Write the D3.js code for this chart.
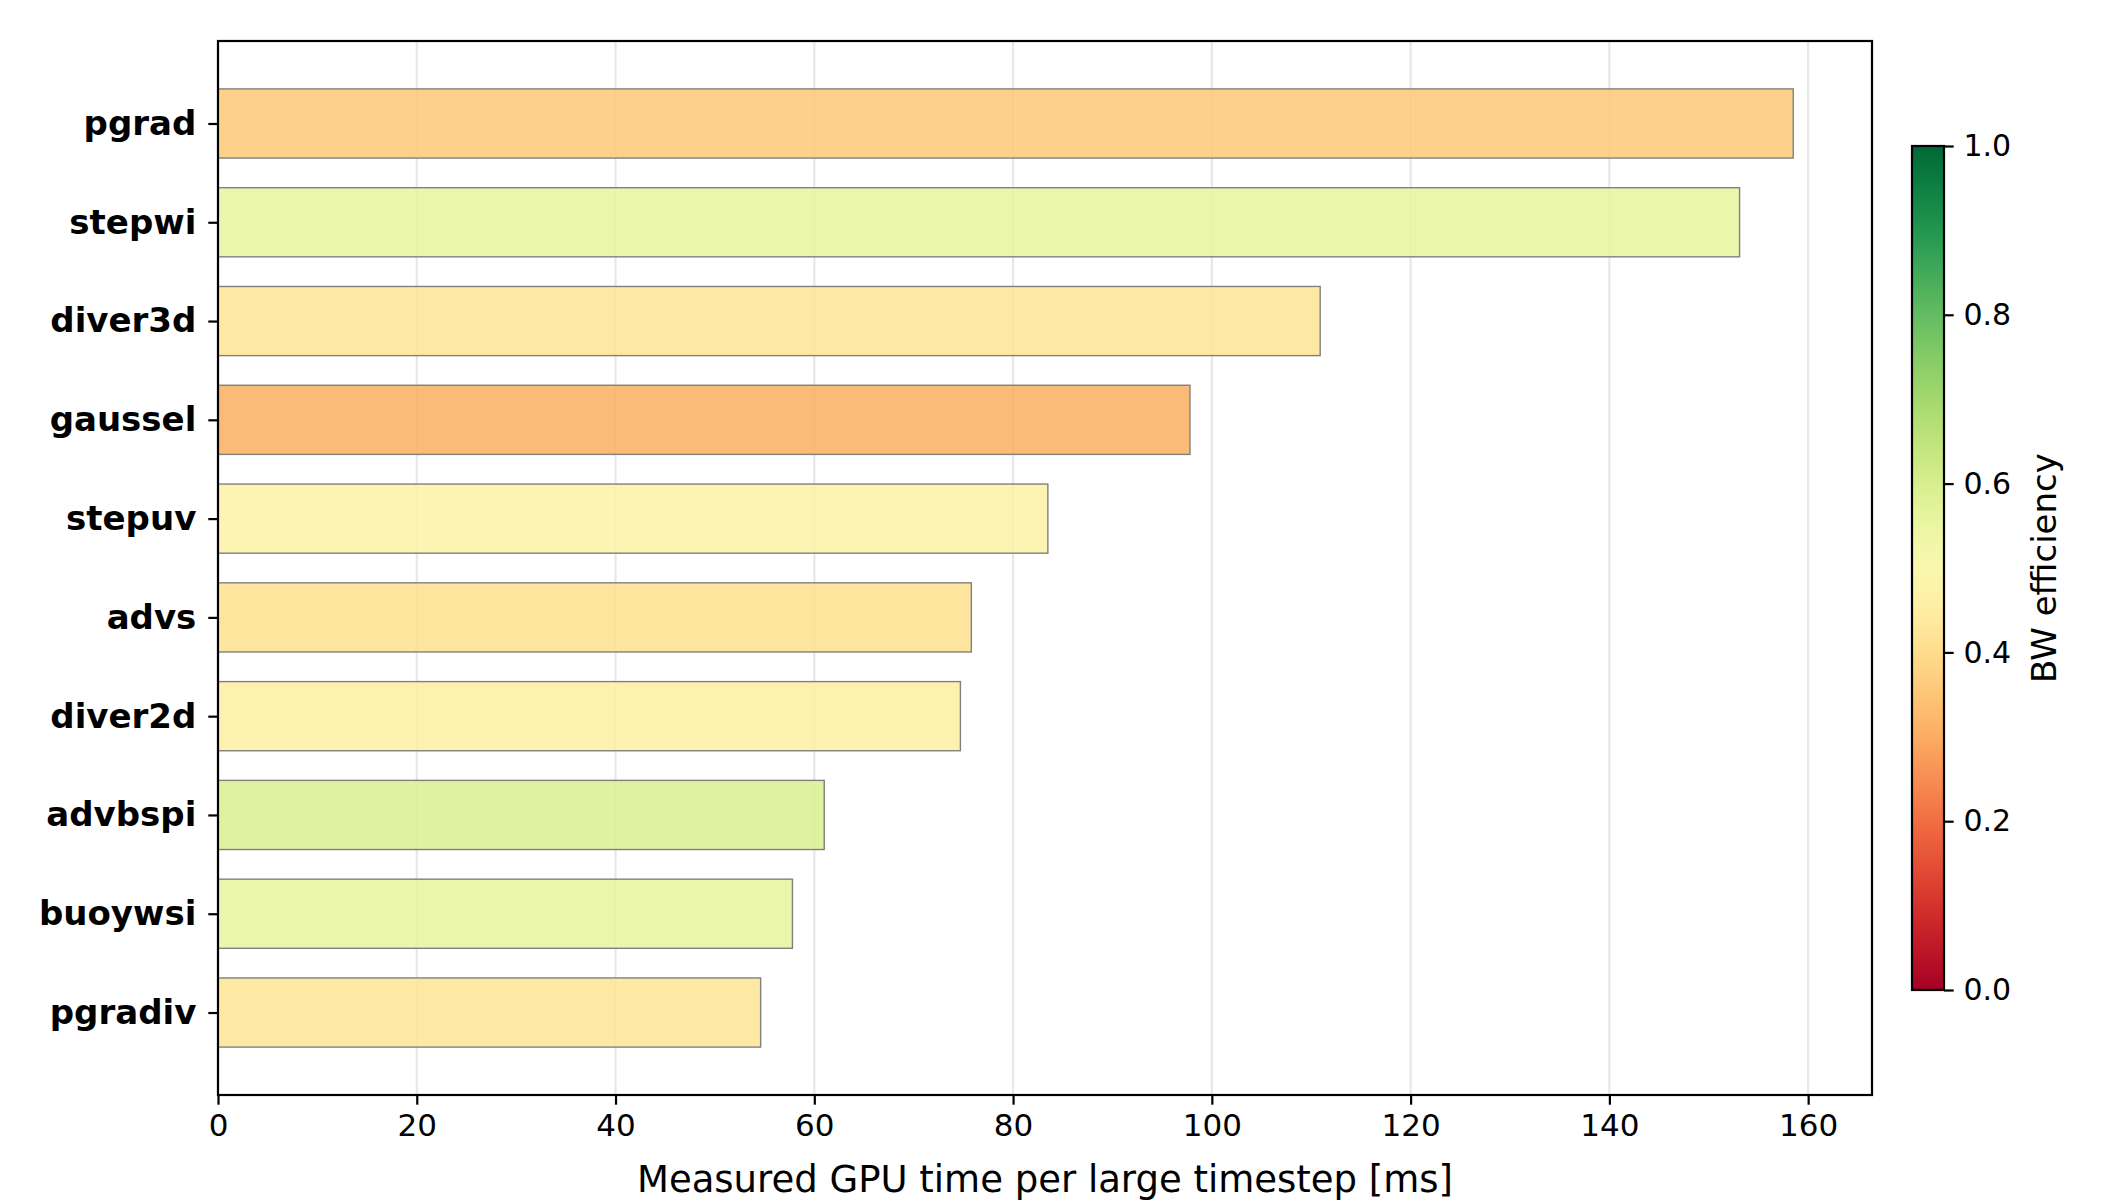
<!DOCTYPE html>
<html lang="en">
  <head>
    <meta charset="UTF-8" />
    <title>GPU time per kernel</title>
    <style>
      body { margin: 0; background: #fff; }
      text { font-family: "DejaVu Sans", sans-serif; fill: #000; }
    </style>
  </head>
  <body>
    <svg id="svg" width="2120" height="1203"></svg>

    <script src="https://cdn.jsdelivr.net/npm/d3@7"></script>
    <script>
      const kernels = ["pgrad", "stepwi", "diver3d", "gaussel", "stepuv", "advs", "diver2d", "advbspi", "buoywsi", "pgradiv"];
      const gpuTime = [158.5, 153.1, 110.9, 97.8, 83.5, 75.8, 74.7, 61.0, 57.8, 54.6];
      const bwEfficiency = [0.36, 0.56, 0.42, 0.31, 0.46, 0.41, 0.45, 0.59, 0.56, 0.42];
      const xTicks = [0, 20, 40, 60, 80, 100, 120, 140, 160];
      const cbTicks = [0, 0.2, 0.4, 0.6, 0.8, 1.0];

      const LEFT = 218, RIGHT = 1872, TOP = 41, BOTTOM = 1095;
      const CB = { x: 1912, w: 32, top: 146, bottom: 990 };

      const svg = d3.select("#svg");

      const xMax = d3.max(gpuTime) * 1.05;
      const x = d3.scaleLinear().domain([0, xMax]).range([LEFT, RIGHT]);
      // barh, first kernel on top, 5% margins like matplotlib
      const n = kernels.length;
      const barH = 0.7;
      const span = (n - 1) + barH;
      const y = d3.scaleLinear()
        .domain([-barH / 2 - span * 0.05, n - 1 + barH / 2 + span * 0.05])
        .range([TOP, BOTTOM]);
      const color = d3.scaleSequential(d3.interpolateRdYlGn).domain([0, 1]);

      // grid
      svg.append("g")
        .selectAll("line")
        .data(xTicks)
        .enter()
        .append("line")
        .attr("x1", (d) => x(d))
        .attr("x2", (d) => x(d))
        .attr("y1", TOP)
        .attr("y2", BOTTOM)
        .attr("stroke", "#b0b0b0")
        .attr("stroke-opacity", 0.3)
        .attr("stroke-width", 2.2);

      // bars
      svg.append("g")
        .selectAll("rect")
        .data(kernels)
        .enter()
        .append("rect")
        .attr("x", x(0))
        .attr("y", (d, i) => y(i - barH / 2))
        .attr("width", (d, i) => x(gpuTime[i]) - x(0))
        .attr("height", (d, i) => y(i + barH / 2) - y(i - barH / 2))
        .attr("fill", (d, i) => color(bwEfficiency[i]))
        .attr("fill-opacity", 0.88)
        .attr("stroke", "#808080")
        .attr("stroke-width", 1.4);

      // frame
      svg.append("rect")
        .attr("x", LEFT)
        .attr("y", TOP)
        .attr("width", RIGHT - LEFT)
        .attr("height", BOTTOM - TOP)
        .attr("fill", "none")
        .attr("stroke", "#000")
        .attr("stroke-width", 2.2);

      // x axis
      const xAxis = d3.axisBottom(x).tickValues(xTicks).tickSize(9.7).tickPadding(9).tickFormat(d3.format("d"));
      const gx = svg.append("g").attr("transform", `translate(0, ${BOTTOM})`).call(xAxis);
      gx.select(".domain").remove();
      gx.selectAll("line").attr("stroke-width", 2.2);
      gx.selectAll("text").attr("font-size", 31).attr("font-family", "DejaVu Sans");

      svg.append("text")
        .attr("x", (LEFT + RIGHT) / 2)
        .attr("y", 1192)
        .attr("text-anchor", "middle")
        .attr("font-size", 37)
        .text("Measured GPU time per large timestep [ms]");

      // y axis
      const yAxis = d3.axisLeft(y).tickValues(d3.range(n)).tickSize(9.7).tickPadding(12).tickFormat((i) => kernels[i]);
      const gy = svg.append("g").attr("transform", `translate(${LEFT}, 0)`).call(yAxis);
      gy.select(".domain").remove();
      gy.selectAll("line").attr("stroke-width", 2.2);
      gy.selectAll("text")
        .attr("font-size", 34)
        .attr("font-weight", "bold")
        .attr("font-family", "DejaVu Sans");

      // colorbar
      const defs = svg.append("defs");
      const grad = defs.append("linearGradient")
        .attr("id", "cbgrad")
        .attr("x1", 0).attr("y1", 1).attr("x2", 0).attr("y2", 0);
      d3.range(0, 1.0001, 0.05).forEach((t) => {
        grad.append("stop").attr("offset", t).attr("stop-color", color(t));
      });
      const cbY = d3.scaleLinear().domain([0, 1]).range([CB.bottom, CB.top]);
      svg.append("rect")
        .attr("x", CB.x)
        .attr("y", CB.top)
        .attr("width", CB.w)
        .attr("height", CB.bottom - CB.top)
        .attr("fill", "url(#cbgrad)")
        .attr("stroke", "#000")
        .attr("stroke-width", 2.2);
      const cbAxis = d3.axisRight(cbY).tickValues(cbTicks).tickSize(9.7).tickPadding(9.7).tickFormat(d3.format(".1f"));
      const gcb = svg.append("g").attr("transform", `translate(${CB.x + CB.w}, 0)`).call(cbAxis);
      gcb.select(".domain").remove();
      gcb.selectAll("line").attr("stroke-width", 2.2);
      gcb.selectAll("text").attr("font-size", 30).attr("font-family", "DejaVu Sans");

      svg.append("text")
        .attr("transform", `translate(2056, ${(CB.top + CB.bottom) / 2}) rotate(-90)`)
        .attr("text-anchor", "middle")
        .attr("font-size", 34)
        .text("BW efficiency");
    </script>
  </body>
</html>
